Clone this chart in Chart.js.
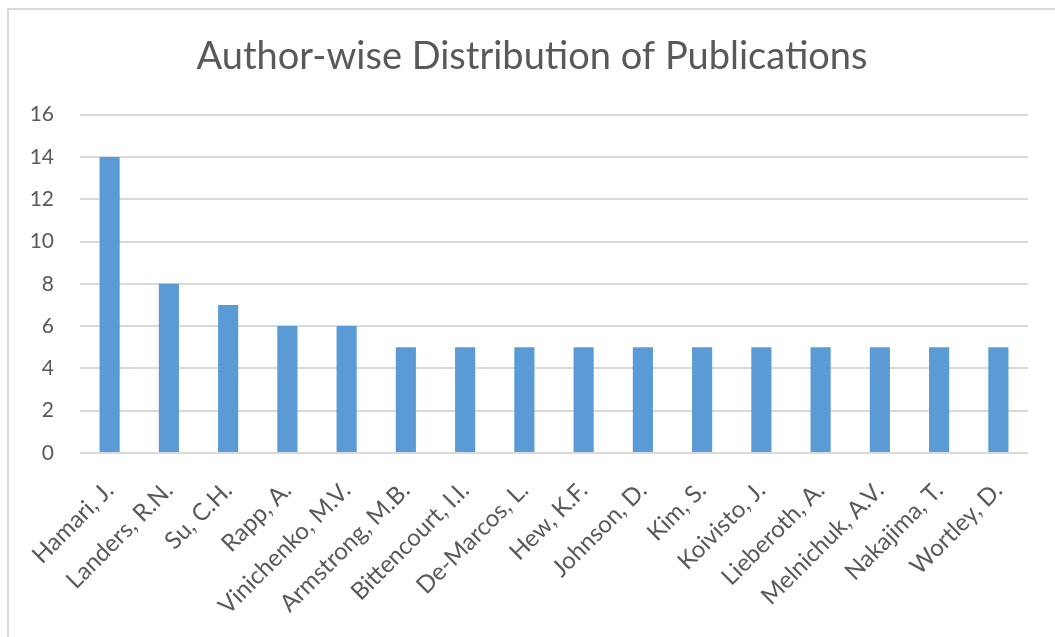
<!DOCTYPE html>
<html>
<head>
<meta charset="utf-8">
<script src="https://cdn.jsdelivr.net/npm/chart.js@4"></script>
<style>
  html, body { margin: 0; padding: 0; background: #fff; }
  #wrap { position: relative; width: 1055px; height: 637px; }
  #frame { position: absolute; left: 7px; top: 8px; right: 0; bottom: 0;
           border-top: 2px solid #d9d9d9; border-left: 2px solid #d9d9d9; pointer-events: none; }
</style>
</head>
<body>
<div id="wrap">
  <canvas id="authorChart" width="1055" height="637"></canvas>
  <div id="frame"></div>
</div>
<script>
const authors = ["Hamari, J.", "Landers, R.N.", "Su, C.H.", "Rapp, A.", "Vinichenko, M.V.",
    "Armstrong, M.B.", "Bittencourt, I.I.", "De-Marcos, L.", "Hew, K.F.", "Johnson, D.",
    "Kim, S.", "Koivisto, J.", "Lieberoth, A.", "Melnichuk, A.V.", "Nakajima, T.", "Wortley, D."];
const publications = [14, 8, 7, 6, 6, 5, 5, 5, 5, 5, 5, 5, 5, 5, 5, 5];
const yMin = 0, yMax = 16, yStep = 2;
const chartTitle = "Author-wise Distribution of Publications";

const textColor = "#595959";
const fontFamily = "Lato, 'Open Sans', sans-serif";

// the title sits centred on the whole frame, not on the padded layout box
const shiftTitle = {
    id: "shiftTitle",
    afterLayout(chart) {
        if (chart.titleBlock) chart.titleBlock.left += 36;
    }
};

const ctx = document.getElementById("authorChart").getContext("2d");
new Chart(ctx, {
    type: "bar",
    data: {
        labels: authors,
        datasets: [{
            label: "Publications",
            data: publications,
            backgroundColor: "#5b9bd5",
            barPercentage: 0.34,
            categoryPercentage: 1.0
        }]
    },
    options: {
        responsive: false,
        animation: false,
        layout: { padding: { left: 0, right: 27, top: 0, bottom: 0 } },
        plugins: {
            legend: { display: false },
            tooltip: { enabled: false },
            title: {
                display: true,
                text: chartTitle,
                color: textColor,
                font: { family: fontFamily, size: 38, weight: "normal", lineHeight: 1.2 },
                padding: { top: 34, bottom: 35 }
            }
        },
        scales: {
            x: {
                grid: { display: false },
                border: { display: false },
                ticks: {
                    color: textColor,
                    font: { family: fontFamily, size: 24 },
                    minRotation: 45,
                    maxRotation: 45,
                    autoSkip: false,
                    padding: 15
                },
                afterFit: function(scale) { scale.height = 184; }
            },
            y: {
                min: yMin,
                max: yMax,
                grid: { color: "#d9d9d9", lineWidth: 2, drawTicks: false },
                border: { display: false },
                ticks: {
                    stepSize: yStep,
                    color: textColor,
                    font: { family: fontFamily, size: 21 },
                    padding: 26
                },
                afterFit: function(scale) { scale.width = 80; }
            }
        }
    },
    plugins: [shiftTitle]
});
</script>
</body>
</html>
